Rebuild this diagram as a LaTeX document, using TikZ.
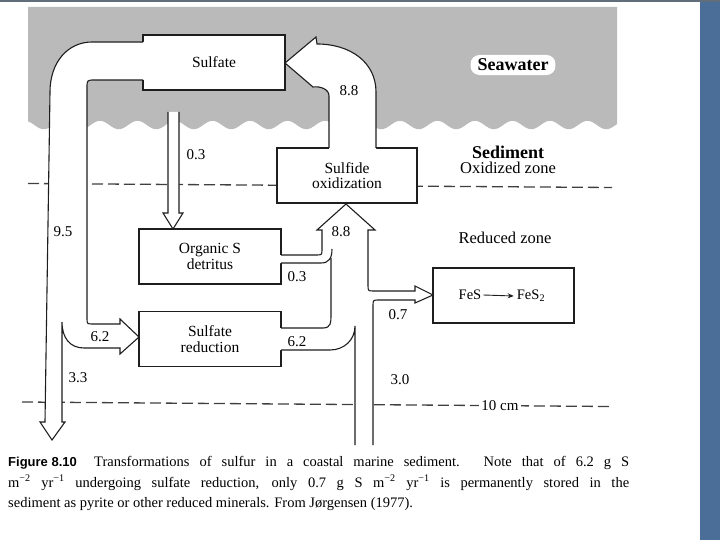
\documentclass[tikz,border=0pt]{standalone}
\usepackage{fontspec}
\setmainfont{Liberation Serif}
\newfontfamily\capsans{Liberation Sans}
\usetikzlibrary{arrows.meta}
\definecolor{seagray}{RGB}{186,186,186}
\definecolor{slideblue}{RGB}{74,110,152}
\definecolor{topline}{RGB}{96,110,124}
\definecolor{ink}{RGB}{30,30,30}
\begin{document}
\begin{tikzpicture}[x=1pt,y=-1pt,
  box/.style={draw=ink, line width=1.3pt, fill=white, minimum width=142pt, minimum height=55pt, inner sep=0pt, align=center, font=\fontsize{15.5}{15.5}\selectfont},
  flowline/.style={draw=ink, line width=1.1pt, line join=miter},
  num/.style={font=\fontsize{15}{15}\selectfont, inner sep=0pt},
  zone/.style={font=\fontsize{16.5}{16.5}\selectfont, inner sep=0pt},
  zonebold/.style={font=\fontsize{18}{18}\selectfont\bfseries, inner sep=0pt},
  zoneline/.style={draw=black!75, line width=1.3pt, dash pattern=on 11pt off 5pt},
  captext/.style={anchor=base west, inner sep=0pt, font=\fontsize{14.5}{14.5}\selectfont}]

\useasboundingbox (0,0) rectangle (720,540);
\fill[white] (0,0) rectangle (720,540);
\fill[slideblue] (700,0) rectangle (720,540);
\fill[topline] (0,0) rectangle (720,2.5);

% seawater
\fill[seagray] (28,7) -- (617,7) -- (617,125) -- plot[domain=617:28, samples=320, smooth] (\x,{125-4.2*cos((\x-100)*9.6)}) -- cycle;

% zone boundaries
\draw[zoneline] (28,183.5) -- (612,187.5);
\draw[zoneline] (22,402) -- (610,406.5);
\node[num, fill=white, inner sep=2pt] (tencm) at (500,405.5) {10 cm};

% boxes
\node[box] (sulfate) at (214,62.5) {Sulfate};
\node[box] (organic) at (210,256.5) {Organic S\\detritus};
\node[box] (sulfred) at (210,339) {Sulfate\\reduction};
\node[box, minimum width=140pt] (sulfox) at (347,175.5) {Sulfide\\oxidization};
\node[box, minimum width=141pt] (fesbox) at (503.5,295.5) {};
\node[num, font=\fontsize{14.5}{14.5}\selectfont] (fes) at (470,295) {FeS};
\node[num, font=\fontsize{14.5}{14.5}\selectfont] (fes2) at (531,296) {FeS\textsubscript{2}};
\draw[ink, line width=0.9pt, -{Stealth[length=6pt,width=5pt]}] ([xshift=2pt]fes.east) -- ([xshift=-3pt]fes2.west);

% arrow A: sulfate -> down (9.5), splits into 6.2 and 3.3
\fill[white] (144.5,42) -- (92,42) .. controls (68,42) and (50,62) .. (50,92) -- (45,422) -- (40,422) -- (52,440) -- (65,422) -- (62,422) -- (62,322) .. controls (62,338) and (70,348) .. (84,348) -- (120,348) -- (120,354) -- (139,337) -- (120,319) -- (120,324) -- (93,324) .. controls (87,324) .. (87,318) -- (87,88) .. controls (87,80) .. (95,80) -- (144.5,80) -- cycle;
\draw[flowline] (143,42) -- (92,42) .. controls (68,42) and (50,62) .. (50,92) -- (45,422) -- (40,422) -- (52,440) -- (65,422) -- (62,422) -- (62,322) .. controls (62,338) and (70,348) .. (84,348) -- (120,348) -- (120,354) -- (139,337) -- (120,319) -- (120,324) -- (93,324) .. controls (87,324) .. (87,318) -- (87,88) .. controls (87,80) .. (95,80) -- (143,80);

% arrow B: sulfide oxidization -> sulfate (8.8)
\fill[white] (329,149.5) -- (329,96) .. controls (329,89) and (320,86) .. (313,87) -- (285,63) -- (316,37) -- (317,44) .. controls (350,44) and (376,62) .. (376,92) -- (376,149.5) -- cycle;
\draw[flowline] (329,148) -- (329,96) .. controls (329,89) and (320,86) .. (313,87) -- (285,63) -- (316,37) -- (317,44) .. controls (350,44) and (376,62) .. (376,92) -- (376,148);

% arrow C: sulfate -> organic S (0.3)
\fill[white] (168,112) -- (168,213) -- (163,213) -- (173,229) -- (183,213) -- (179,213) -- (179,112) -- cycle;
\draw[flowline] (168,112) -- (168,213) -- (163,213) -- (173,229) -- (183,213) -- (179,213) -- (179,112);

% arrow D: merged flows up to sulfide oxidization, branch to FeS
\fill[white] (279.8,255) -- (322,255) -- (322,230) -- (317,230) -- (346,204) -- (375,230) -- (368,230) -- (368,291) -- (415,291) -- (415,286) -- (433,295) -- (415,303) -- (415,300) -- (373,300) -- (373,445) -- (355,445) -- (355,327) -- (333,350) -- (279.8,350) -- (279.8,328) -- (331,328) -- (331,263) -- (279.8,263) -- cycle;
\draw[flowline] (281,255) -- (316,255) .. controls (322,255) .. (322,249) -- (322,230) -- (317,230) -- (346,204) -- (375,230) -- (368,230) -- (368,285) .. controls (368,291) .. (374,291) -- (415,291) -- (415,286) -- (433,295) -- (415,303) -- (415,300) -- (379,300) .. controls (373,300) .. (373,306) -- (373,445);
\draw[flowline] (281,263) -- (321,263) .. controls (329,263) and (332,258) .. (332,249);
\draw[flowline] (281,328) -- (323,328) .. controls (331,328) and (331,322) .. (331,316) -- (331,258);
\draw[flowline] (281,350) -- (330,350) .. controls (344,350) and (355,340) .. (355,326) -- (355,445);

% flow labels
\node[num] (l95) at (63,232) {9.5};
\node[num] (l03a) at (196,155) {0.3};
\node[num] (l88a) at (349,91) {8.8};
\node[num] (l88b) at (341,232) {8.8};
\node[num] (l03b) at (297,277) {0.3};
\node[num] (l62a) at (100,337) {6.2};
\node[num] (l62b) at (297,342) {6.2};
\node[num] (l33) at (78,378) {3.3};
\node[num] (l07) at (398,315) {0.7};
\node[num] (l30) at (400,380) {3.0};

% zone labels
\node[zonebold, fill=white, rounded corners=9pt, inner xsep=7pt, inner ysep=4pt] (sea) at (513,65) {Seawater};
\node[zonebold] (sed) at (508,152) {Sediment};
\node[zone] (oxz) at (508,168) {Oxidized zone};
\node[zone] (redz) at (505,238) {Reduced zone};

% caption
\node[captext] (cap1) at (8,466) {\makebox[621pt][s]{\makebox[76pt][l]{\capsans\bfseries\fontsize{13}{13}\selectfont Figure 8.10} Transformations of sulfur in a coastal marine sediment. Note that of 6.2 g S}};
\node[captext] (cap2) at (8,487) {\makebox[621pt][s]{m\textsuperscript{−2} yr\textsuperscript{−1} undergoing sulfate reduction, only 0.7 g S m\textsuperscript{−2} yr\textsuperscript{−1} is permanently stored in the}};
\node[captext] (cap3) at (8,507) {sediment as pyrite or other reduced minerals. From Jørgensen (1977).};
\end{tikzpicture}
\end{document}
